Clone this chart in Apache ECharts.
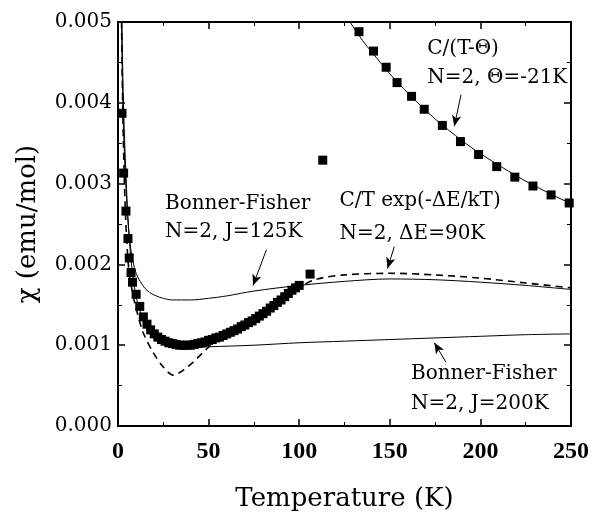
<!DOCTYPE html>
<html>
<head>
<meta charset="utf-8">
<script src="https://cdn.jsdelivr.net/npm/echarts@6/dist/echarts.min.js"></script>
<style>
  html, body { margin: 0; padding: 0; background: #fff; }
  #main { width: 592px; height: 517px; }
</style>
</head>
<body>
<div id="main"></div>
<script>
// measured points (filled squares)
const dataT = [2.2, 3.1, 4.4, 5.5, 6.2, 7.2,
  8, 10, 12, 14, 16, 18, 20, 22, 24, 26, 28, 30, 32, 34, 36, 38, 40, 42, 44, 46, 48, 50,
  52, 54, 56, 58, 60, 62, 64, 66, 68, 70, 72, 74, 76, 78, 80, 82, 84, 86, 88, 90, 92, 94, 96, 98, 100,
  106, 113,
  133, 141, 148, 154, 162, 169, 179, 189, 199, 209, 219, 229, 239, 249];
const dataChi = [0.00387, 0.00313, 0.00266, 0.00232, 0.00208, 0.0019,
  0.00178, 0.00163, 0.00148, 0.00135, 0.00126, 0.00119, 0.00114, 0.0011, 0.00107, 0.00105, 0.00103, 0.00102, 0.00101, 0.001, 0.001, 0.001, 0.001, 0.00101, 0.00102, 0.00103, 0.00104, 0.00106,
  0.00107, 0.00109, 0.0011, 0.00112, 0.00114, 0.00116, 0.00118, 0.0012, 0.00123, 0.00125, 0.00128, 0.0013, 0.00133, 0.00136, 0.00139, 0.00142, 0.00146, 0.00149, 0.00153, 0.00156, 0.0016, 0.00164, 0.00168, 0.00171, 0.00174,
  0.00188, 0.00329,
  0.00488, 0.00464, 0.00444, 0.00425, 0.00408, 0.00392, 0.00372, 0.00352, 0.00336, 0.00321, 0.00308, 0.00297, 0.00286, 0.00276];

// Bonner-Fisher N=2, J=125K
const bf125T = [1.2, 2, 3, 5, 7, 10, 15, 20, 25, 30, 40, 50, 60, 75, 100, 125, 150, 175, 200, 225, 250];
const bf125Chi = [0.0062, 0.0049, 0.0037, 0.0027, 0.0022, 0.00189, 0.0017, 0.00162, 0.00158, 0.00156, 0.00156, 0.00158, 0.00161, 0.00167, 0.00174, 0.00179, 0.00182, 0.00181, 0.00178, 0.00174, 0.00169];

// Bonner-Fisher N=2, J=200K
const bf200T = [1.5, 2, 3, 5, 7, 10, 15, 20, 25, 30, 40, 50, 75, 100, 125, 150, 175, 200, 225, 250];
const bf200Chi = [0.0065, 0.0053, 0.004, 0.0028, 0.0021, 0.0016, 0.00125, 0.00111, 0.00104, 0.00099, 0.00097, 0.00098, 0.001, 0.00103, 0.00105, 0.00107, 0.00109, 0.00111, 0.00113, 0.00114];

// C/T exp(-dE/kT), N=2, dE=90K
const expT = [1.5, 2, 3, 4, 5.7, 8, 10.3, 14, 19.4, 25, 30.5, 36, 41.5, 46, 50.7, 55, 60, 70, 80, 90, 100, 110, 125, 150, 175, 200, 225, 250];
const expChi = [0.0062, 0.0049, 0.0035, 0.0027, 0.002, 0.00165, 0.00143, 0.00115, 0.00091, 0.00073, 0.00063, 0.00069, 0.00079, 0.00089, 0.00099, 0.00106, 0.00113, 0.00127, 0.00143, 0.0016, 0.00172, 0.00182, 0.00187, 0.00189, 0.00187, 0.00183, 0.00177, 0.00171];

// C/(T-Theta), N=2, Theta=-21K
const cwT = [126, 128, 135, 140, 150, 160, 175, 190, 200, 225, 250];
const cwChi = [0.00507, 0.005, 0.00477, 0.00463, 0.00436, 0.00412, 0.0038, 0.00353, 0.00337, 0.00303, 0.00275];

// annotation texts: [T, chi (baseline), text]
const notes = [
  [25.9, 0.00263, "Bonner-Fisher"],
  [25.9, 0.00228, "N=2, J=125K"],
  [122.2, 0.00266, "C/T exp(-ΔE/kT)"],
  [122.2, 0.00226, "N=2, ΔE=90K"],
  [170.7, 0.00454, "C/(T-Θ)"],
  [170.7, 0.00418, "N=2, Θ=-21K"],
  [161.7, 0.000525, "Bonner-Fisher"],
  [161.7, 0.000145, "N=2, J=200K"]
];
// arrows: [T1, chi1, T2, chi2] (tail -> head)
const arrows = [
  [81.9, 0.00218, 74.5, 0.00174],
  [152.5, 0.00222, 148.7, 0.00195],
  [189.3, 0.0041, 185.6, 0.00371],
  [181, 0.00079, 174.6, 0.00103]
];

const zip = (a, b) => a.map((v, i) => [v, b[i]]);
const serif = "DejaVu Serif";

const chart = echarts.init(document.getElementById("main"));

const axisCommon = {
  axisLine: { show: true, onZero: false, lineStyle: { color: "#000", width: 2 } },
  axisTick: { show: true, inside: true, length: 7, lineStyle: { color: "#000", width: 1.5 } },
  minorTick: { show: true, splitNumber: 2, length: 4, lineStyle: { color: "#000", width: 1 } },
  splitLine: { show: false },
};

const option = {
  animation: false,
  grid: { left: 118, right: 20, top: 22, bottom: 82, show: false },
  xAxis: [
    {
      type: "value", min: 0, max: 250, interval: 50, position: "bottom",
      ...axisCommon,
      axisLabel: { color: "#000", fontFamily: "Liberation Serif", fontWeight: "bold", fontSize: 24, margin: 14 },
      name: "Temperature (K)", nameLocation: "middle", nameGap: 60,
      nameTextStyle: { color: "#000", fontFamily: serif, fontSize: 26 },
    },
    {
      type: "value", min: 0, max: 250, interval: 50, position: "top",
      ...axisCommon, axisLabel: { show: false },
    },
  ],
  yAxis: [
    {
      type: "value", min: 0, max: 0.005, interval: 0.001, position: "left",
      ...axisCommon,
      axisLabel: { color: "#000", fontFamily: serif, fontSize: 20, margin: 6, formatter: (v) => v.toFixed(3) },
      name: "χ (emu/mol)", nameLocation: "middle", nameGap: 77, nameRotate: 90,
      nameTextStyle: { color: "#000", fontFamily: serif, fontSize: 26 },
    },
    {
      type: "value", min: 0, max: 0.005, interval: 0.001, position: "right",
      ...axisCommon, axisLabel: { show: false },
    },
  ],
  series: [
    {
      name: "BF125", type: "line", data: zip(bf125T, bf125Chi), smooth: 0.3, showSymbol: false,
      lineStyle: { color: "#000", width: 1 }, clip: true,
    },
    {
      name: "BF200", type: "line", data: zip(bf200T, bf200Chi), smooth: 0.3, showSymbol: false,
      lineStyle: { color: "#000", width: 1 }, clip: true,
    },
    {
      name: "exp", type: "line", data: zip(expT, expChi), smooth: 0.3, showSymbol: false,
      lineStyle: { color: "#000", width: 1.6, type: [7, 5] }, clip: true,
    },
    {
      name: "CW", type: "line", data: zip(cwT, cwChi), smooth: 0.3, showSymbol: false,
      lineStyle: { color: "#000", width: 1 }, clip: true,
    },
    {
      name: "data", type: "scatter", data: zip(dataT, dataChi), symbol: "rect", symbolSize: 9,
      itemStyle: { color: "#000", opacity: 1 }, clip: true, z: 5,
      markLine: {
        silent: true, symbol: ["none", "arrow"], symbolSize: [7, 11],
        lineStyle: { color: "#000", width: 1, type: "solid" },
        label: { show: false },
        data: arrows.map((a) => [{ coord: [a[0], a[1]] }, { coord: [a[2], a[3]] }]),
      },
    },
  ],
};
chart.setOption(option);

// place annotation text in data coordinates
chart.setOption({
  graphic: notes.map((n) => {
    const p = chart.convertToPixel({ xAxisIndex: 0, yAxisIndex: 0 }, [n[0], n[1]]);
    return {
      type: "text", x: p[0], y: p[1],
      style: { text: n[2], fill: "#000", font: "20px " + serif, textVerticalAlign: "bottom" },
    };
  }),
});
</script>
</body>
</html>
